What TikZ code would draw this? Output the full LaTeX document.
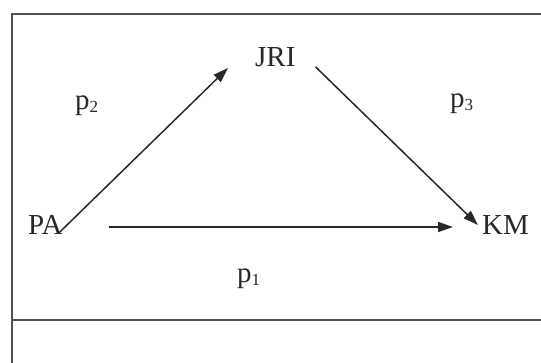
\documentclass[tikz,border=0pt]{standalone}
\usepackage{fontspec}
\setmainfont{Liberation Serif}
\usepackage{tikz}
\usetikzlibrary{arrows.meta, positioning, calc}
\definecolor{InkDark}{RGB}{40,40,40}
\definecolor{FrameGray}{RGB}{80,80,80}
\newcommand{\psub}[1]{\raisebox{-3pt}{\fontsize{17}{17}\selectfont #1}}

\begin{document}
\begin{tikzpicture}[
        x=1pt,y=1pt,
        lbl/.style={anchor=base west,inner sep=0pt,text=InkDark,
                    font=\fontsize{29}{34}\selectfont},
        frame/.style={draw=FrameGray,line width=1.8pt},
        arr/.style={draw=InkDark,line width=1.5pt,
                    -{Triangle[length=15pt,width=10pt]}}
      ]
        \useasboundingbox (0,0) rectangle (541,363);
        \clip (0,0) rectangle (541,363);
        \draw[frame] (12,-10) -- (12,349) -- (560,349);
        \draw[frame] (12,43) -- (560,43);
        \node[lbl] (PA)  at (28,128)  {PA};
        \node[lbl] (JRI) at (255,296) {JRI};
        \node[lbl] (KM)  at (482,128) {KM};
        \node[lbl] (p2)  at (75,253)  {p\psub{2}};
        \node[lbl] (p3)  at (450,255) {p\psub{3}};
        \node[lbl] (p1)  at (237,80)  {p\psub{1}};
        \draw[arr] ([shift={(-4,2)}]PA.base east)--([shift={(-27,-1)}]JRI.base west);
        \draw[arr] ([shift={(20,0)}]JRI.base east)--([shift={(-4,10)}]KM.base west);
        \draw[arr] ([shift={(46,8)}]PA.base east)--([shift={(-29,8)}]KM.base west);
      \end{tikzpicture}
\end{document}
